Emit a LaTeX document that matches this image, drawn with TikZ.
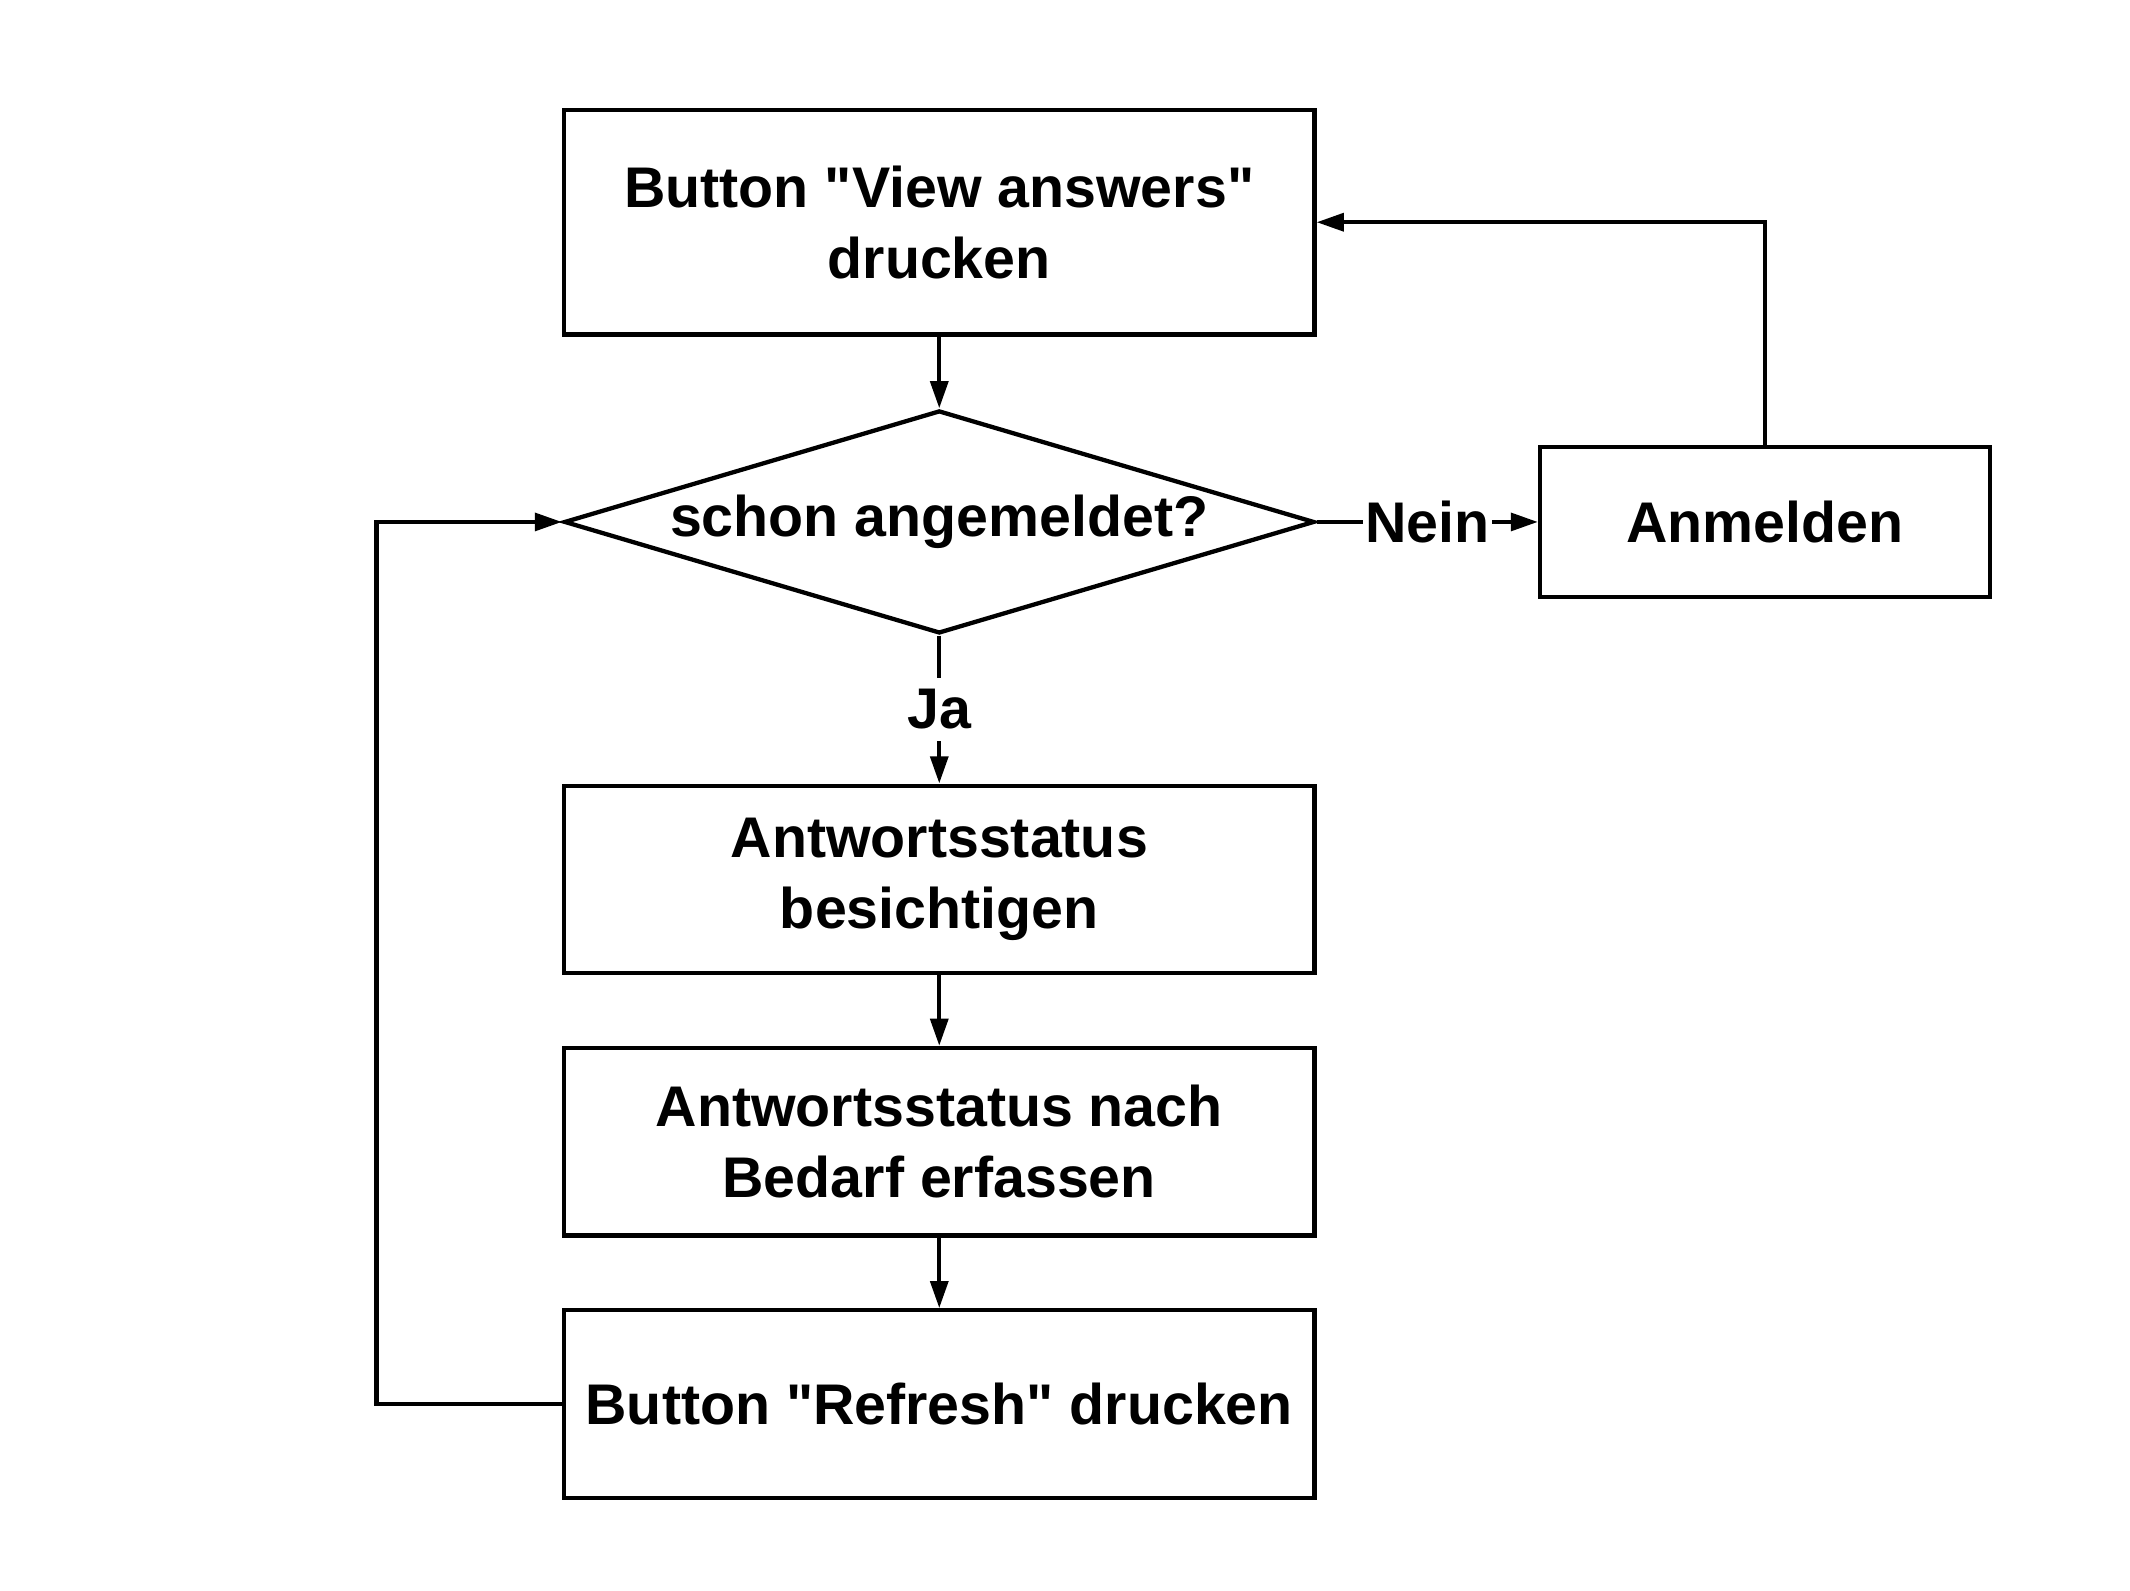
\documentclass[tikz,border=0pt]{standalone}
\usepackage{fontspec}
\setmainfont{Liberation Sans}
\usetikzlibrary{shapes.geometric,arrows.meta,positioning}

\begin{document}
\begin{tikzpicture}[
    font=\fontsize{12}{14.8}\selectfont\bfseries,
    box/.style={draw,line width=0.9pt,rectangle,minimum width=\boxw cm,align=center,inner sep=0pt},
    decision/.style={draw,line width=0.9pt,diamond,aspect=3.37,minimum width=\boxw cm,minimum height=1.64cm,inner sep=0pt},
    answer/.style={fill=white,inner xsep=0.5pt,inner ysep=2.5pt},
    conn/.style={line width=0.9pt,-{Triangle[length=2mm,width=1.3mm]}}]
\pgfmathsetmacro{\boxw}{5.52}
\pgfmathsetmacro{\boxh}{1.38}

\useasboundingbox (0,0) rectangle (15.67,-11.70);

% Boxes
\node[box,minimum height=1.65cm] (top) at (6.91,-1.635) {Button \textquotedbl View answers\textquotedbl\\drucken};
\node[decision] (dec) at (6.91,-3.84) {schon angemeldet?};
\node[box,minimum width=3.31cm,minimum height=1.1cm] (anm) at (12.985,-3.84) {Anmelden};
\node[box,minimum height=\boxh cm] (stat) at (6.91,-6.47) {Antwortsstatus\\besichtigen};
\node[box,minimum height=\boxh cm] (erf) at (6.91,-8.40) {Antwortsstatus nach\\Bedarf erfassen};
\node[box,minimum height=\boxh cm] (refresh) at (6.91,-10.33) {Button \textquotedbl Refresh\textquotedbl\ drucken};

\coordinate (loop) at (2.77,-10.33);

% Connectors
\draw[conn] (top) -- (dec);
\draw[conn] (dec.east) -- node[answer] {Nein} (anm.west);
\draw[conn] (anm.north) |- (top.east);
\draw[conn] (dec.south) -- node[answer] {Ja} (stat.north);
\draw[conn] (stat) -- (erf);
\draw[conn] (erf) -- (refresh);
\draw[conn] (refresh.west) -- (loop) |- (dec.west);

\end{tikzpicture}
\end{document}
